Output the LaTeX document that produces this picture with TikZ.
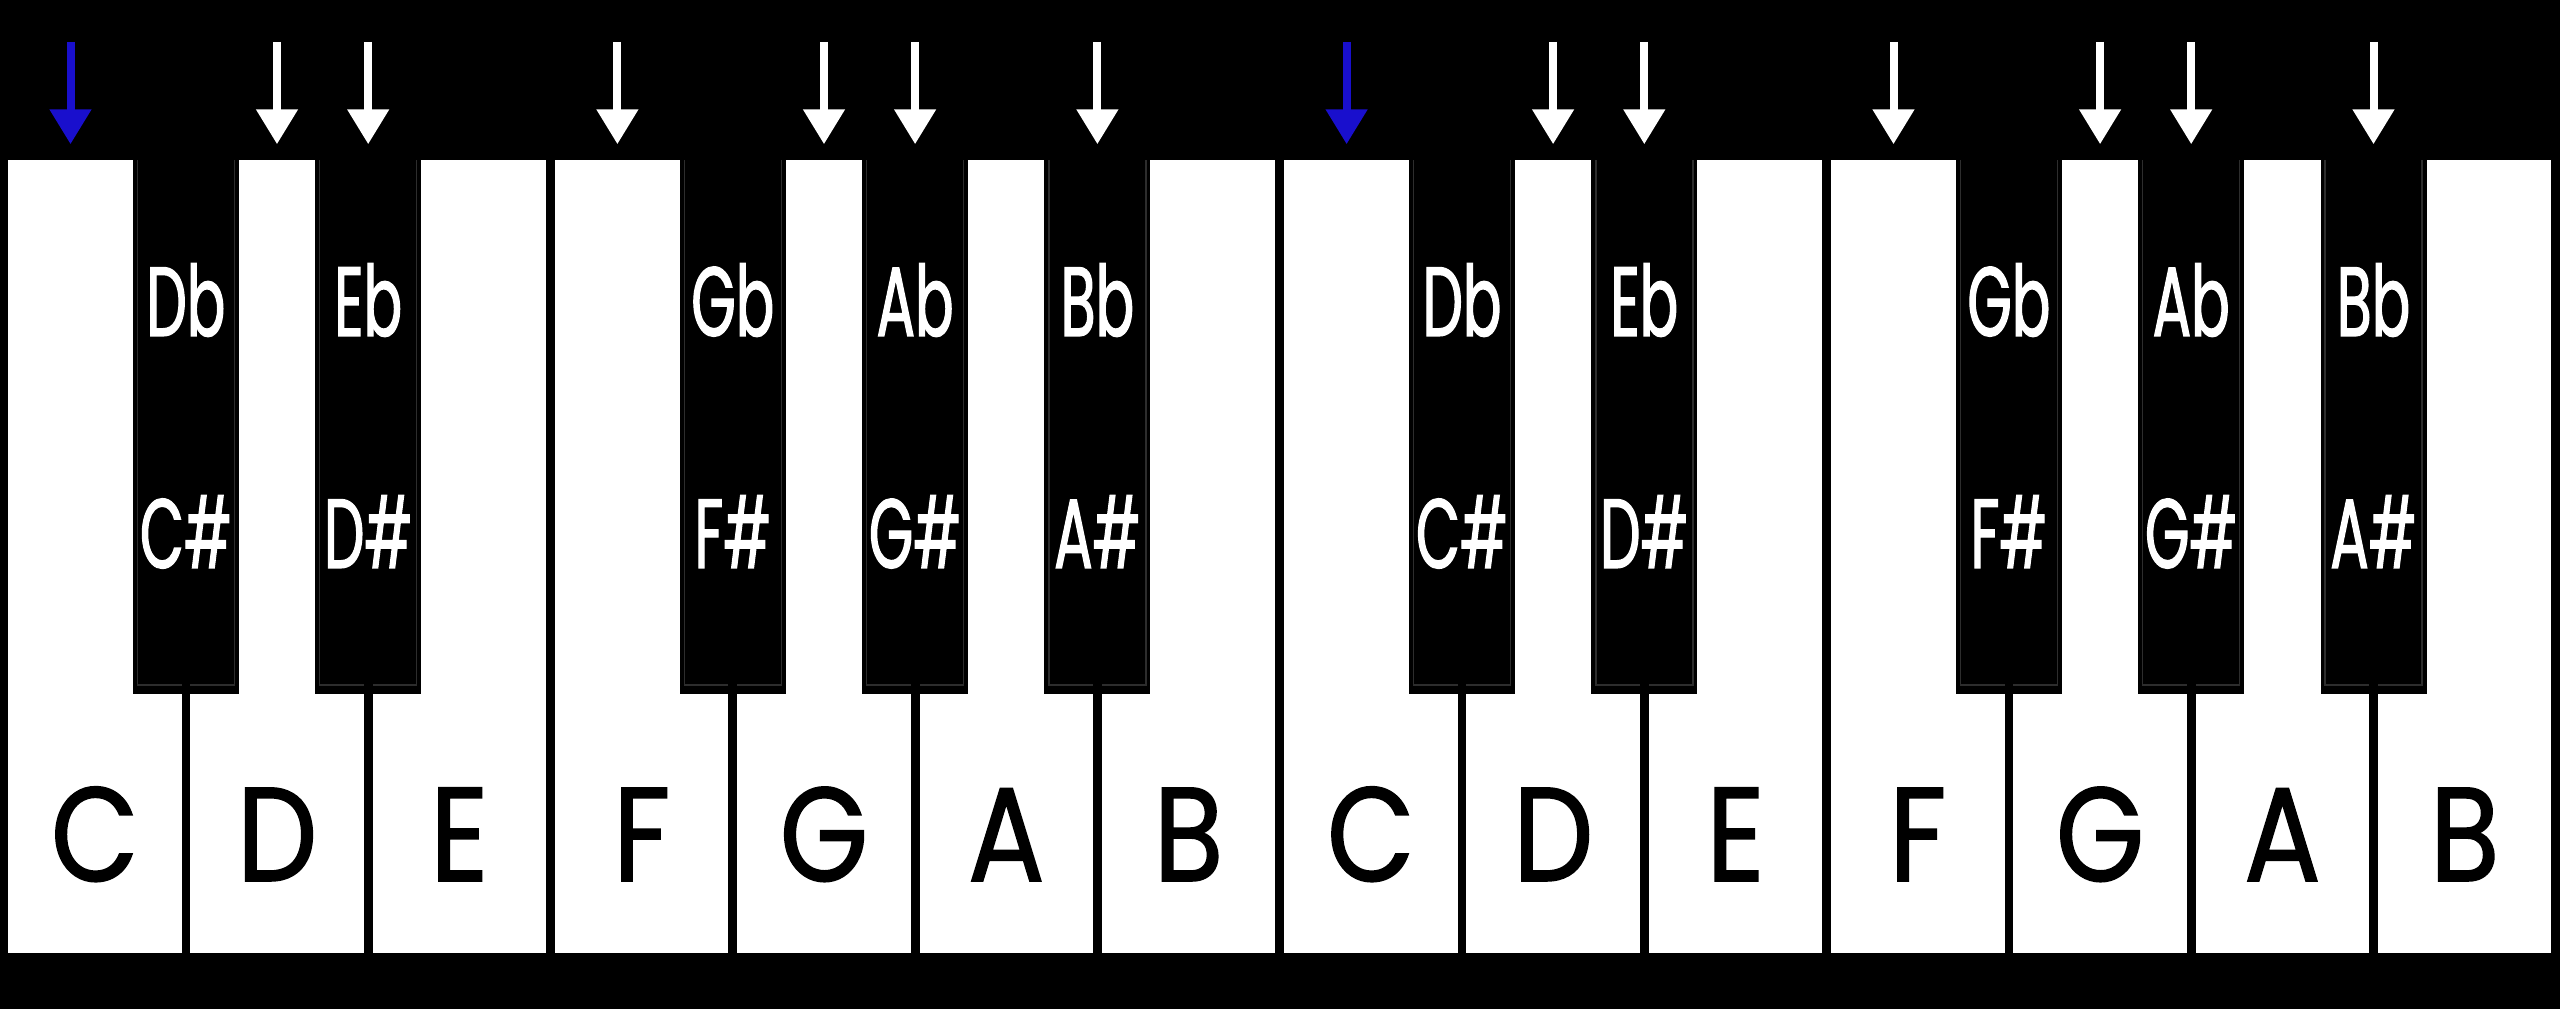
\documentclass[tikz,border=0pt]{standalone}
\usepackage{tikz}
\usepackage{fontspec}
\usetikzlibrary{arrows.meta}
\newfontfamily\keyfont[FakeStretch=0.85,FakeBold=1.2]{Poppins}
\newfontfamily\accfont[FakeStretch=0.58,FakeBold=1.2]{Poppins}
\definecolor{tonicblue}{RGB}{25,15,205}
\definecolor{keyedge}{RGB}{45,45,45}

\begin{document}
\begin{tikzpicture}[x=1mm,y=1mm]
        \tikzstyle{whitekey}=[shape=rectangle,fill=white,inner sep=0pt,minimum width=17.35mm,minimum height=79.3mm]
        \tikzstyle{blackkey}=[shape=rectangle,fill=black,inner sep=0pt,minimum width=10.6mm,minimum height=53.4mm,
            path picture={\draw[keyedge,line width=0.15mm] ([xshift=0.45mm]path picture bounding box.north west) |- ([yshift=0.9mm]path picture bounding box.south) -| ([xshift=-0.45mm]path picture bounding box.north east);
            \draw[black,line width=0.88mm] (path picture bounding box.south) -- ++(0,2);}]
        \tikzstyle{whitename}=[font=\keyfont\fontsize{38}{38}\selectfont,text=black,anchor=base,inner sep=0pt]
        \tikzstyle{blackname}=[font=\accfont\fontsize{28}{28}\selectfont,text=white,anchor=base,inner sep=0pt]
        \tikzstyle{keyarrow}=[draw=white,line width=0.8mm,-{Triangle[width=4mm,length=3.5mm]},shorten >=1.5mm]
        \tikzstyle{tonic}=[keyarrow,draw=tonicblue]

            \fill[black] (0,0) rectangle (256,100.9);

            \node[whitekey] (c1) at (9.48,45.25) {};
            \node[whitekey] (d1) at (27.71,45.25) {};
            \node[whitekey] (e1) at (45.94,45.25) {};
            \node[whitekey] (f1) at (64.17,45.25) {};
            \node[whitekey] (g1) at (82.40,45.25) {};
            \node[whitekey] (a1) at (100.63,45.25) {};
            \node[whitekey] (b1) at (118.86,45.25) {};
            \node[whitekey] (c2) at (137.09,45.25) {};
            \node[whitekey] (d2) at (155.32,45.25) {};
            \node[whitekey] (e2) at (173.55,45.25) {};
            \node[whitekey] (f2) at (191.78,45.25) {};
            \node[whitekey] (g2) at (210.01,45.25) {};
            \node[whitekey] (a2) at (228.24,45.25) {};
            \node[whitekey] (b2) at (246.47,45.25) {};

            \node[blackkey] (cs1) at (18.59,58.2) {};
            \node[blackkey] (ds1) at (36.82,58.2) {};
            \node[blackkey] (fs1) at (73.28,58.2) {};
            \node[blackkey] (gs1) at (91.51,58.2) {};
            \node[blackkey] (as1) at (109.74,58.2) {};
            \node[blackkey] (cs2) at (146.20,58.2) {};
            \node[blackkey] (ds2) at (164.43,58.2) {};
            \node[blackkey] (fs2) at (200.89,58.2) {};
            \node[blackkey] (gs2) at (219.12,58.2) {};
            \node[blackkey] (as2) at (237.35,58.2) {};

            \node[whitename] (nc1) at (9.48,12.8) {C};
            \node[whitename] (nd1) at (27.71,12.8) {D};
            \node[whitename] (ne1) at (45.94,12.8) {E};
            \node[whitename] (nf1) at (64.17,12.8) {F};
            \node[whitename] (ng1) at (82.40,12.8) {G};
            \node[whitename] (na1) at (100.63,12.8) {A};
            \node[whitename] (nb1) at (118.86,12.8) {B};
            \node[whitename] (nc2) at (137.09,12.8) {C};
            \node[whitename] (nd2) at (155.32,12.8) {D};
            \node[whitename] (ne2) at (173.55,12.8) {E};
            \node[whitename] (nf2) at (191.78,12.8) {F};
            \node[whitename] (ng2) at (210.01,12.8) {G};
            \node[whitename] (na2) at (228.24,12.8) {A};
            \node[whitename] (nb2) at (246.47,12.8) {B};

            \node[blackname] (ndb1) at (18.59,67.3) {Db};
            \node[blackname] (neb1) at (36.82,67.3) {Eb};
            \node[blackname] (ngb1) at (73.28,67.3) {Gb};
            \node[blackname] (nab1) at (91.51,67.3) {Ab};
            \node[blackname] (nbb1) at (109.74,67.3) {Bb};
            \node[blackname] (ndb2) at (146.20,67.3) {Db};
            \node[blackname] (neb2) at (164.43,67.3) {Eb};
            \node[blackname] (ngb2) at (200.89,67.3) {Gb};
            \node[blackname] (nab2) at (219.12,67.3) {Ab};
            \node[blackname] (nbb2) at (237.35,67.3) {Bb};

            \node[blackname] (ncs1) at (18.59,44.1) {C\#};
            \node[blackname] (nds1) at (36.82,44.1) {D\#};
            \node[blackname] (nfs1) at (73.28,44.1) {F\#};
            \node[blackname] (ngs1) at (91.51,44.1) {G\#};
            \node[blackname] (nas1) at (109.74,44.1) {A\#};
            \node[blackname] (ncs2) at (146.20,44.1) {C\#};
            \node[blackname] (nds2) at (164.43,44.1) {D\#};
            \node[blackname] (nfs2) at (200.89,44.1) {F\#};
            \node[blackname] (ngs2) at (219.12,44.1) {G\#};
            \node[blackname] (nas2) at (237.35,44.1) {A\#};

            \coordinate (pc1) at (7.05,96.7);
            \coordinate (pd1) at (27.70,96.7);
            \coordinate (peb1) at (36.82,96.7);
            \coordinate (pf1) at (61.74,96.7);
            \coordinate (pg1) at (82.40,96.7);
            \coordinate (pab1) at (91.51,96.7);
            \coordinate (pbb1) at (109.74,96.7);
            \coordinate (pc2) at (134.66,96.7);
            \coordinate (pd2) at (155.31,96.7);
            \coordinate (peb2) at (164.43,96.7);
            \coordinate (pf2) at (189.35,96.7);
            \coordinate (pg2) at (210.01,96.7);
            \coordinate (pab2) at (219.12,96.7);
            \coordinate (pbb2) at (237.35,96.7);

            \draw[tonic] (pc1) -- (pc1 |- c1.north);
            \draw[keyarrow] (pd1) -- (pd1 |- d1.north);
            \draw[keyarrow] (peb1) -- (peb1 |- ds1.north);
            \draw[keyarrow] (pf1) -- (pf1 |- f1.north);
            \draw[keyarrow] (pg1) -- (pg1 |- g1.north);
            \draw[keyarrow] (pab1) -- (pab1 |- gs1.north);
            \draw[keyarrow] (pbb1) -- (pbb1 |- as1.north);
            \draw[tonic] (pc2) -- (pc2 |- c2.north);
            \draw[keyarrow] (pd2) -- (pd2 |- d2.north);
            \draw[keyarrow] (peb2) -- (peb2 |- ds2.north);
            \draw[keyarrow] (pf2) -- (pf2 |- f2.north);
            \draw[keyarrow] (pg2) -- (pg2 |- g2.north);
            \draw[keyarrow] (pab2) -- (pab2 |- gs2.north);
            \draw[keyarrow] (pbb2) -- (pbb2 |- as2.north);
        \end{tikzpicture}
\end{document}
